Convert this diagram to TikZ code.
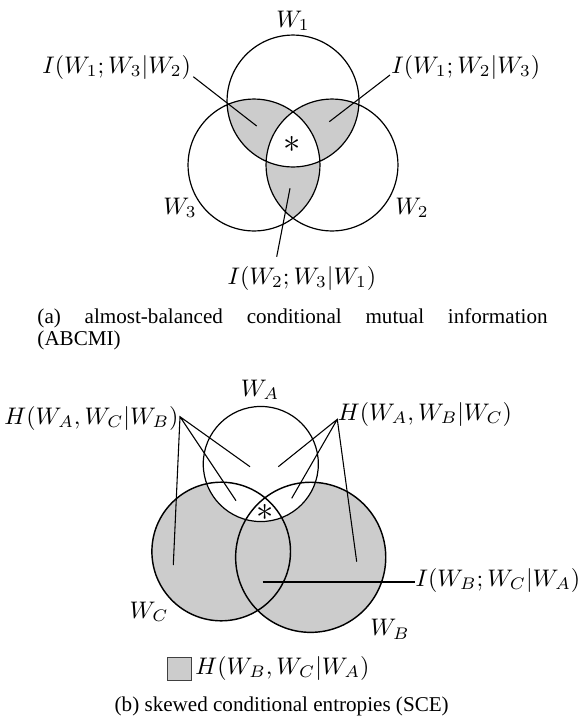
\documentclass[tikz,border=0pt]{standalone}
\usepackage[no-math]{fontspec}
\setmainfont{Liberation Serif}
\begin{document}
\begin{tikzpicture}[x=0.417pt,y=-0.417pt,
  venn/.style={line width=0.5pt},
  shadefill/.style={fill=black!20},
  lbl/.style={inner sep=0pt, font=\fontsize{10}{12}\selectfont},
  starlbl/.style={inner sep=0pt, font=\fontsize{14}{14}\selectfont},
  lead/.style={line width=0.45pt},
  captext/.style={inner sep=0pt, font=\fontsize{8.8}{9.2}\selectfont}
]
\path[use as bounding box] (0,0) rectangle (578,719);

% ---------- (a) ----------
\coordinate (c1) at (293,101);
\coordinate (c2) at (332,165);
\coordinate (c3) at (254,165);
\def\ra{27.5pt}
\begin{scope}
  \clip (c1) circle[radius=\ra];
  \fill[shadefill] (c3) circle[radius=\ra];
  \fill[shadefill] (c2) circle[radius=\ra];
\end{scope}
\begin{scope}
  \clip (c2) circle[radius=\ra];
  \fill[shadefill] (c3) circle[radius=\ra];
\end{scope}
\begin{scope}
  \clip (c1) circle[radius=\ra];
  \clip (c2) circle[radius=\ra];
  \fill[white] (c3) circle[radius=\ra];
\end{scope}
\draw[venn] (c1) circle[radius=\ra] (c2) circle[radius=\ra] (c3) circle[radius=\ra];

\node[lbl] (w1) at (293,21) {$W_1$};
\node[lbl] (w2) at (412,208) {$W_2$};
\node[lbl] (w3) at (180,208) {$W_3$};
\node[starlbl] (star1) at (292,144) {$*$};

\node[lbl] (i13) at (116.7,67) {$I(W_1;W_3|W_2)$};
\coordinate (i13s) at (193.3,76.7);
\coordinate (i13e) at (256.7,126);
\draw[lead] (i13s) -- (i13e);

\node[lbl] (i12) at (465.8,67) {$I(W_1;W_2|W_3)$};
\coordinate (i12s) at (390,75);
\coordinate (i12e) at (329.3,121.7);
\draw[lead] (i12s) -- (i12e);

\node[lbl] (i23) at (302,278) {$I(W_2;W_3|W_1)$};
\coordinate (i23s) at (276.7,256.7);
\coordinate (i23e) at (290,188.3);
\draw[lead] (i23s) -- (i23e);

\node[captext, anchor=north west, text width=212.7pt, align=justify] (capa) at (37,308)
  {\hyphenpenalty=10000 (a) almost-balanced conditional mutual information (ABCMI)};

% ---------- (b) ----------
\coordinate (ca) at (260.8,464);
\coordinate (cc) at (221.2,551.5);
\coordinate (cb) at (310.7,557.3);
\fill[shadefill] (cc) circle[radius=28.9pt] (cb) circle[radius=31.3pt];
\fill[white] (ca) circle[radius=24pt];
\draw[venn] (ca) circle[radius=24pt];
\draw[venn, line width=0.6pt] (cc) circle[radius=28.9pt] (cb) circle[radius=31.3pt];

\node[lbl] (wa) at (260,390) {$W_A$};
\node[lbl] (wc) at (149,612) {$W_C$};
\node[lbl] (wb) at (390,629) {$W_B$};
\node[starlbl] (star2) at (265.3,512.5) {$*$};

\node[lbl] (hac) at (91.5,418) {$H(W_A,W_C|W_B)$};
\coordinate (hacx) at (180,416.7);
\coordinate (hac1) at (173.3,565);
\coordinate (hac2) at (250,466.7);
\coordinate (hac3) at (236,500.7);
\draw[lead] (hac1) -- (hacx) -- (hac2) (hacx) -- (hac3);

\node[lbl] (hab) at (425,414) {$H(W_A,W_B|W_C)$};
\coordinate (habx) at (337.3,419.3);
\coordinate (hab1) at (278.3,466.7);
\coordinate (hab2) at (291.7,498.3);
\coordinate (hab3) at (356.7,561.7);
\draw[lead] (hab1) -- (habx) -- (hab3) (habx) -- (hab2);

\node[lbl] (ibc) at (498,580) {$I(W_B;W_C|W_A)$};
\coordinate (ibcs) at (262.7,582);
\coordinate (ibce) at (415,582);
\draw[lead] (ibcs) -- (ibce);

\node[draw=black!75, fill=black!20, line width=0.45pt, minimum width=10pt, minimum height=9.6pt, inner sep=0pt] (legsq) at (179.5,669) {};
\node[lbl] (leg) at (282.5,668) {$H(W_B,W_C|W_A)$};

\node[captext] (capb) at (281.7,706) {(b) skewed conditional entropies (SCE)};
\end{tikzpicture}
\end{document}
